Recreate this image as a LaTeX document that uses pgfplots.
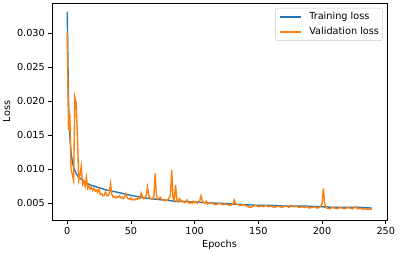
\documentclass[border=0pt]{standalone}
\usepackage{pgfplots}
\pgfplotsset{compat=1.18}
\usepackage{fontspec}
\setmainfont{DejaVu Sans}
\definecolor{mplblue}{HTML}{1F77B4}
\definecolor{mplorange}{HTML}{FF7F0E}
\newcommand{\fs}{\fontsize{9.7bp}{11.6bp}\selectfont}
\begin{document}
\begin{tikzpicture}
\useasboundingbox (0,0) rectangle (405bp,253bp);
\begin{axis}[
  at={(52bp,33bp)}, anchor=south west,
  scale only axis, width=335bp, height=217bp,
  xmin=-11.95, xmax=250.95, ymin=0.00255, ymax=0.03446,
  xtick={0,50,100,150,200,250},
  ytick={0.005,0.010,0.015,0.020,0.025,0.030},
  yticklabel style={/pgf/number format/fixed, /pgf/number format/fixed zerofill, /pgf/number format/precision=3},
  scaled y ticks=false,
  /pgf/number format/assume math mode=true,
  tick align=outside, xtick pos=bottom, ytick pos=left,
  major tick length=3.5bp,
  every tick/.style={black, line width=0.78bp},
  axis line style={line width=0.78bp},
  tick label style={font=\fs, inner sep=0pt},
  xticklabel style={yshift=-3.5bp},
  yticklabel style={xshift=-3.5bp},
  xlabel={Epochs}, ylabel={Loss},
  label style={font=\fs, inner sep=0pt},
  xlabel style={at={(axis description cs:0.5,-0.1152)}, anchor=center},
  ylabel style={at={(axis description cs:-0.1352,0.5)}, anchor=center, rotate=0},
  legend style={at={(1,1)}, anchor=north east, xshift=-4.5bp, yshift=-5bp,
    draw=black!20, rounded corners=2bp, font=\fs, inner xsep=3.3bp, inner ysep=4bp,
    nodes={inner sep=0pt, text height=7.2bp, text depth=2.3bp},
    column sep=8bp, row sep=5.5bp},
  legend cell align=left,
  legend image code/.code={\draw[#1, line width=1.4bp] (0bp,0bp) -- (21bp,0bp);},
]
\addplot[mplblue, line width=1.4bp] coordinates {
(0,0.0332) (1,0.0200) (2,0.0150) (3,0.0125) (4,0.0111) (5,0.0103) (6,0.0098) (7,0.0094) (8,0.0091) (9,0.0089) (10,0.0087) (12,0.0084) (14,0.0081) (16,0.0079) (18,0.0077) (20,0.0076) (25,0.0073) (30,0.0070) (35,0.0068) (40,0.0066) (45,0.0064) (49,0.0062) (55,0.0060) (60,0.0058) (65,0.0057) (70,0.0056) (75,0.0055) (80,0.0054) (85,0.0053) (90,0.0053) (100,0.0052) (110,0.0051) (120,0.0050) (130,0.0049) (140,0.0048) (150,0.0047) (160,0.0047) (170,0.0046) (186,0.0046) (200,0.0045) (210,0.0044) (220,0.0044) (230,0.0044) (239,0.0043)
};
\addlegendentry{Training loss}
\addplot[mplorange, line width=1.4bp] coordinates {
(0,0.0301) (1,0.0158) (2,0.0182) (3,0.0100) (4,0.0092) (5,0.0084) (6,0.0206) (7,0.0198) (8,0.0150) (9,0.0084)
(10,0.0092) (11,0.0104) (12,0.0078) (13,0.0083) (14,0.0075) (15,0.0088) (16,0.0072) (17,0.0076) (18,0.0071) (19,0.0074)
(20,0.0069) (21,0.0072) (22,0.0068) (23,0.0070) (24,0.0066) (25,0.0071) (26,0.0063) (27,0.0064) (28,0.0061) (29,0.0062)
(30,0.0067) (31,0.0062) (32,0.0061) (33,0.0064) (34,0.0079) (35,0.0063) (36,0.0059) (37,0.0060) (38,0.0058) (39,0.0060)
(40,0.0059) (41,0.0061) (42,0.0058) (43,0.0059) (44,0.0057) (45,0.0060) (46,0.0064) (47,0.0058) (48,0.0057) (49,0.0056)
(50,0.0058) (51,0.0055) (52,0.0056) (53,0.0055) (54,0.0057) (55,0.0056) (56,0.0058) (57,0.0057) (58,0.0065) (59,0.0060)
(60,0.0057) (61,0.0058) (62,0.0062) (63,0.0074) (64,0.0062) (65,0.0058) (66,0.0056) (67,0.0057) (68,0.0060) (69,0.0094)
(70,0.0062) (71,0.0056) (72,0.0057) (73,0.0059) (74,0.0056) (75,0.0055) (76,0.0054) (77,0.0055) (78,0.0054) (79,0.0055)
(80,0.0058) (81,0.0063) (82,0.0099) (83,0.0058) (84,0.0054) (85,0.0077) (86,0.0056) (87,0.0052) (88,0.0057) (89,0.0055)
(90,0.0052) (91,0.0053) (92,0.0051) (93,0.0052) (94,0.0055) (95,0.0051) (96,0.0050) (97,0.0052) (98,0.0050) (99,0.0053)
(100,0.0051) (101,0.0052) (102,0.0050) (103,0.0052) (104,0.0054) (105,0.0061) (106,0.0054) (107,0.0051) (108,0.0050) (109,0.0053)
(110,0.0049) (112,0.0051) (114,0.0050) (116,0.0048) (118,0.0049) (120,0.0050) (122,0.0048) (124,0.0049) (126,0.0048) (128,0.0047)
(130,0.0049) (131,0.0055) (132,0.0050) (134,0.0048) (136,0.0047) (138,0.0048) (140,0.0047) (142,0.0045) (144,0.0044) (146,0.0046)
(148,0.0047) (150,0.0045) (152,0.0046) (154,0.0045) (156,0.0047) (158,0.0045) (160,0.0046) (162,0.0044) (164,0.0045) (166,0.0046)
(168,0.0044) (170,0.0045) (172,0.0046) (174,0.0044) (176,0.0047) (178,0.0045) (180,0.0046) (182,0.0044) (184,0.0045) (186,0.0044)
(188,0.0045) (190,0.0043) (192,0.0044) (194,0.0045) (196,0.0043) (198,0.0044) (199,0.0046) (200,0.0049) (201,0.0072) (202,0.0050)
(203,0.0044) (204,0.0043) (206,0.0042) (208,0.0044) (210,0.0043) (212,0.0042) (214,0.0044) (216,0.0043) (218,0.0042) (220,0.0044)
(222,0.0043) (224,0.0042) (226,0.0045) (228,0.0042) (230,0.0043) (232,0.0041) (234,0.0042) (236,0.0041) (238,0.0042) (239,0.0041)
};
\addlegendentry{Validation loss\hspace{3.4bp}}
\end{axis}
\end{tikzpicture}
\end{document}
